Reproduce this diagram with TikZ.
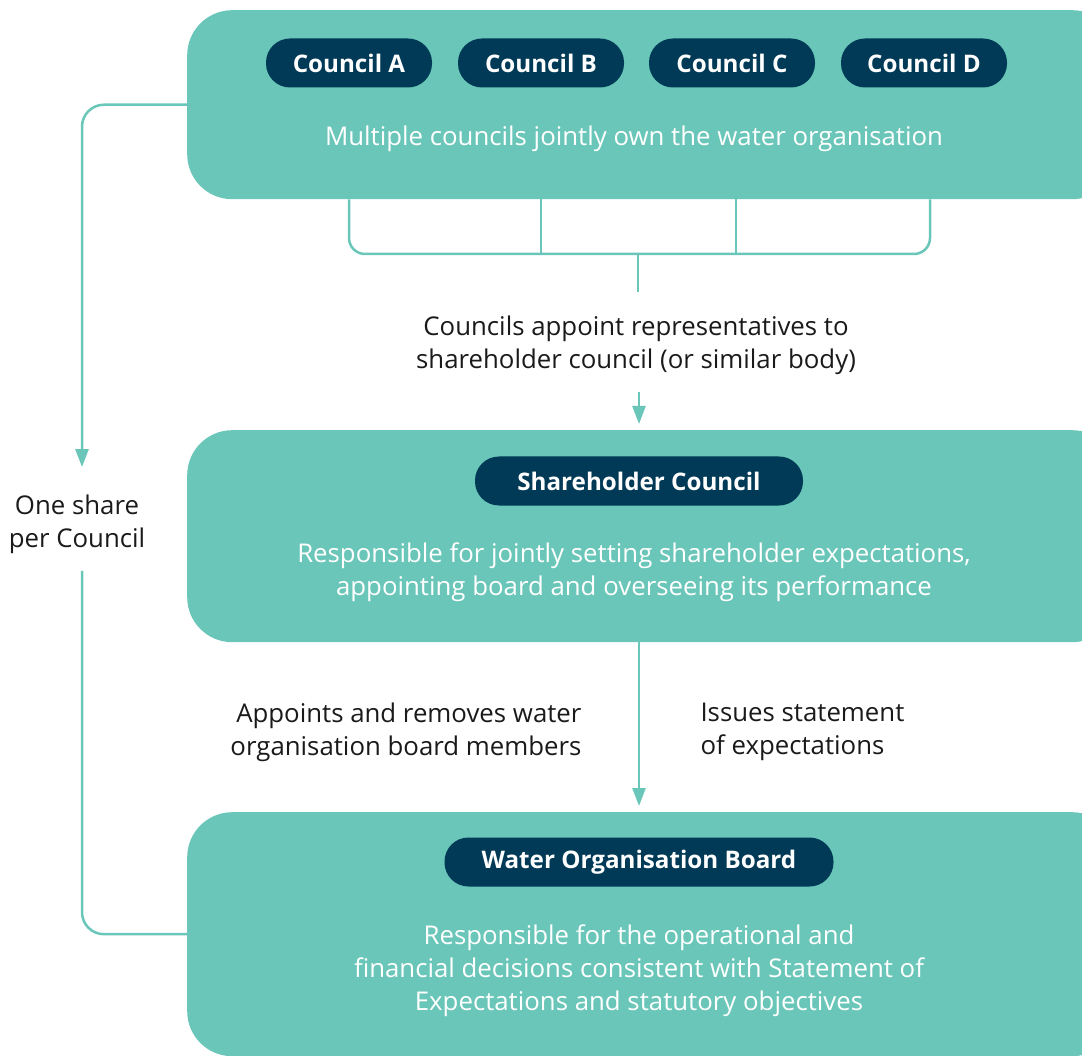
\documentclass[tikz,border=0pt]{standalone}
\usepackage{fontspec}
\setmainfont{Open Sans}
\usetikzlibrary{arrows.meta, positioning, shapes.misc}
\definecolor{WaterTeal}{HTML}{69C6B8}
\definecolor{WaterNavy}{HTML}{003A57}
\definecolor{WaterInk}{HTML}{1A1A1A}
\colorlet{BoxFill}{WaterTeal}
\colorlet{PillFill}{WaterNavy}

\begin{document}
\begin{tikzpicture}[x=1pt, y=1pt,
    body/.style={fill=BoxFill, rounded corners=45pt, anchor=north west, minimum width=930pt},
    pill/.style={fill=PillFill, text=white, rounded corners=24pt, minimum height=49pt,
        font=\fontsize{24.2}{30}\selectfont\bfseries},
    boxtext/.style={text=white, align=center, font=\fontsize{25.8}{33}\selectfont},
    note/.style={text=WaterInk, font=\fontsize{25.8}{33}\selectfont},
    link/.style={draw=WaterTeal, line width=2.5pt},
    arrow/.style={link, -{Triangle[length=18pt, width=13pt]}}]

    \useasboundingbox (0,0) rectangle (1082,-1056);

    % Boxes
    \node[body, minimum height=189pt] (owners) at (187,-10) {};
    \node[body, minimum height=212pt] (share) at (187,-430) {};
    \node[body, minimum height=244pt] (board) at (187,-812) {};

    % Councils
    \foreach \c/\x in {A/349, B/541, C/732, D/924}
        \node[pill, minimum width=166pt] (c\c) at (\x,-63) {Council \c};
    \node[boxtext] (ownText) at (634,-139) {Multiple councils jointly own the water organisation};

    % Shareholder council
    \node[pill, minimum width=328pt] (shc) at (639,-481) {Shareholder Council};
    \node[boxtext] (shcText) at (634,-572)
        {Responsible for jointly setting shareholder expectations,\\appointing board and overseeing its performance};

    % Water organisation board
    \node[pill, minimum width=389pt] (wob) at (639,-862) {Water Organisation Board};
    \node[boxtext] (wobText) at (639,-971)
        {Responsible for the operational and\\financial decisions consistent with Statement of\\Expectations and statutory objectives};

    % Bracket under councils
    \coordinate (brk) at (638,-254);
    \draw[link, rounded corners=16pt] (cA |- owners.south) |- (brk) -| ([xshift=6pt]cD |- owners.south);
    \draw[link] (cB |- owners.south) -- (cB |- brk);
    \draw[link] ([xshift=4pt]cC |- owners.south) -- ([xshift=4pt]cC |- brk);
    \coordinate (stem) at (638,-292);
    \draw[link] (brk) -- (stem);
    \node[note, align=center] (appoint) at (636,-345)
        {Councils appoint representatives to\\shareholder council (or similar body)};
    \draw[arrow, shorten >=6pt] (appoint.south -| shc) ++(0,-14) -- (share.north -| shc);

    % Shareholder council to board
    \draw[arrow, shorten >=6pt] (share.south -| shc) -- (board.north -| shc);
    \node[note, align=right, anchor=east] (appoints) at (585,-732)
        {Appoints and removes water\\organisation board members};
    \node[note, align=left, anchor=west] (issues) at (697,-732)
        {Issues statement\\of expectations};

    % One share per council
    \node[note, align=center] (perCouncil) at (77,-524) {One share\\per Council};
    \coordinate (lane) at (82,-524);
    \draw[arrow, rounded corners=22pt] (owners.west) -| ([yshift=24pt]perCouncil.north -| lane);
    \draw[link, rounded corners=22pt] ([yshift=-14pt]perCouncil.south -| lane) |- (board.west);

\end{tikzpicture}
\end{document}
